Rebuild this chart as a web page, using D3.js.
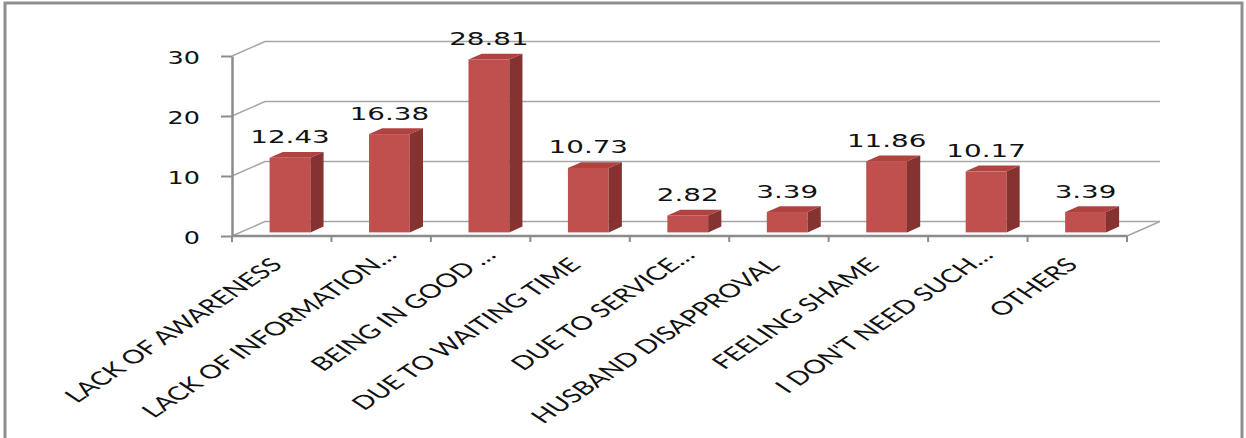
<!DOCTYPE html>
<html>
<head>
<meta charset="utf-8">
<script src="https://cdn.jsdelivr.net/npm/d3@7"></script>
<style>
  body { margin: 0; background: #fff; }
  svg { display: block; }
</style>
</head>
<body>
<svg id="chart" width="1246" height="438"></svg>
<script>
// Reasons for not using the service (%)
const categories = [
  "LACK OF AWARENESS",
  "LACK OF INFORMATION…",
  "BEING IN GOOD …",
  "DUE TO WAITING TIME",
  "DUE TO SERVICE…",
  "HUSBAND DISAPPROVAL",
  "FEELING SHAME",
  "I DON'T NEED SUCH…",
  "OTHERS"
];
const values = [12.43, 16.38, 28.81, 10.73, 2.82, 3.39, 11.86, 10.17, 3.39];
const yTicks = [0, 10, 20, 30];

const svg = d3.select("#chart");
const stretch = 1.5;               // horizontal stretch applied to all text
const depth = { dx: 33, dy: -14.5 }; // offset of the back wall from the front plane
const barD0 = 0.25, barD1 = 0.65;  // bar depth span as fraction of full depth

const x = d3.scaleBand().domain(categories).range([232, 1127]);
const y = d3.scaleLinear().domain([0, 30]).range([236, 56]);

const gridColor = "#a6a6a6";
const axisColor = "#8c8c8c";

// outer frame
svg.append("rect")
  .attr("x", 5).attr("y", 3)
  .attr("width", 1237).attr("height", 460)
  .attr("fill", "none").attr("stroke", "#8f8f8f").attr("stroke-width", 3);

// walls: gridlines on the back wall with diagonals on the side wall
const grid = svg.append("g").attr("fill", "none").attr("stroke", gridColor).attr("stroke-width", 1.5);
grid.selectAll("path.grid")
  .data(yTicks)
  .join("path")
  .attr("class", "grid")
  .attr("d", v => {
    const x0 = x.range()[0], x1 = x.range()[1];
    const yy = y(v);
    return `M${x0},${yy}L${x0 + depth.dx},${yy + depth.dy}L${x1 + depth.dx},${yy + depth.dy}`;
  });
// floor: right edge diagonal
grid.append("path")
  .attr("d", `M${x.range()[1]},${y(0)}L${x.range()[1] + depth.dx},${y(0) + depth.dy}`);

// bars
const barW = x.bandwidth() * 0.41;
const bdx = (barD1 - barD0) * depth.dx, bdy = (barD1 - barD0) * depth.dy;
const bars = svg.append("g")
  .selectAll("g.bar")
  .data(categories.map((c, i) => ({ c, v: values[i] })))
  .join("g")
  .attr("class", "bar");

function frontLeft(d) {
  return x(d.c) + x.bandwidth() / 2 - barW / 2 + barD0 * depth.dx;
}
function topY(d) { return y(d.v) + barD0 * depth.dy; }
function baseY() { return y(0) + barD0 * depth.dy; }

bars.append("rect")
  .attr("x", frontLeft)
  .attr("y", topY)
  .attr("width", barW)
  .attr("height", d => baseY() - topY(d))
  .attr("fill", "#c0504d");

bars.append("path")
  .attr("fill", "#b0423f")
  .attr("d", d => {
    const fx = frontLeft(d), ty = topY(d);
    return `M${fx},${ty}L${fx + barW},${ty}L${fx + barW + bdx},${ty + bdy}L${fx + bdx},${ty + bdy}Z`;
  });

bars.append("path")
  .attr("fill", "#853331")
  .attr("d", d => {
    const fx = frontLeft(d) + barW, ty = topY(d), by = baseY();
    return `M${fx},${ty}L${fx + bdx},${ty + bdy}L${fx + bdx},${by + bdy}L${fx},${by}Z`;
  });

// value labels
bars.append("text")
  .attr("transform", d => `translate(${frontLeft(d) + barW / 2},${topY(d) - 14.5}) scale(${stretch},1)`)
  .attr("text-anchor", "middle")
  .attr("font-family", "DejaVu Sans, Verdana, sans-serif")
  .attr("font-size", 18.5)
  .attr("fill", "#111")
  .text(d => d.v.toFixed(2));

// vertical axis
const yAxis = svg.append("g")
  .attr("transform", `translate(${x.range()[0]},0)`)
  .call(d3.axisLeft(y).tickValues(yTicks).tickSize(11).tickSizeOuter(0).tickFormat(d3.format("d")));
yAxis.select(".domain").attr("stroke", axisColor).attr("stroke-width", 2.5);
yAxis.selectAll(".tick line").attr("stroke", axisColor).attr("stroke-width", 2);
yAxis.selectAll(".tick text")
  .attr("x", null)
  .attr("dy", null)
  .attr("transform", `translate(-32,7) scale(${stretch},1)`)
  .attr("text-anchor", "end")
  .attr("font-family", "DejaVu Sans, Verdana, sans-serif")
  .attr("font-size", 17)
  .attr("fill", "#111");

// horizontal axis line and category separators
const xAxis = svg.append("g").attr("stroke", axisColor);
xAxis.append("line")
  .attr("x1", x.range()[0]).attr("x2", x.range()[1])
  .attr("y1", y(0)).attr("y2", y(0))
  .attr("stroke-width", 2.5);
xAxis.selectAll("line.sep")
  .data(categories.map(c => x(c)).concat([x.range()[1]]))
  .join("line")
  .attr("class", "sep")
  .attr("x1", d => d).attr("x2", d => d)
  .attr("y1", y(0)).attr("y2", y(0) + 6)
  .attr("stroke-width", 2);

// category labels, rotated
svg.append("g")
  .selectAll("text")
  .data(categories)
  .join("text")
  .attr("transform", c => {
    const extra = c.endsWith("…") ? 14 : 0;
    const cx = x(c) + x.bandwidth() / 2 + 2 + extra * 0.707 * stretch;
    const cy = 266 - extra * 0.707;
    return `translate(${cx},${cy}) scale(${stretch},1) rotate(-45)`;
  })
  .attr("text-anchor", "end")
  .attr("font-family", "Lato, Calibri, sans-serif")
  .attr("font-size", 19)
  .attr("fill", "#111")
  .text(c => c);
</script>
</body>
</html>
